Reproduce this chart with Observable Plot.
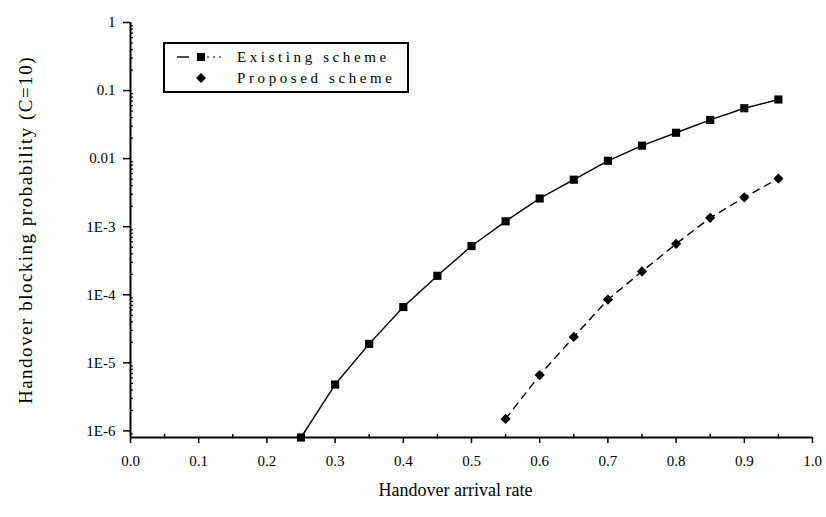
<!DOCTYPE html>
<html>
<head>
<meta charset="utf-8">
<script src="https://cdn.jsdelivr.net/npm/d3@7"></script>
<script src="https://cdn.jsdelivr.net/npm/@observablehq/plot@0.6"></script>
<style>
  html, body { margin: 0; padding: 0; background: white; }
  #wrap { position: relative; width: 826px; height: 517px; font-family: 'Liberation Serif', 'DejaVu Serif', serif; }
  #legend { position: absolute; left: 163px; top: 42px; width: 242px; height: 47px; border: 2px solid black; background: white; }
  .row { position: absolute; left: 0; height: 20px; display: flex; align-items: center; font-size: 15px; letter-spacing: 3.6px; color: black; white-space: nowrap; }
  .row svg { display: block; }
</style>
</head>
<body>
<div id="wrap"></div>
<script>
// ---- data ----
const existingRates = [0.25, 0.30, 0.35, 0.40, 0.45, 0.50, 0.55, 0.60, 0.65, 0.70, 0.75, 0.80, 0.85, 0.90, 0.95];
const existingValues = [8e-7, 4.8e-6, 1.9e-5, 6.6e-5, 1.9e-4, 5.2e-4, 1.2e-3, 2.6e-3, 4.9e-3, 9.3e-3, 0.0155, 0.024, 0.037, 0.055, 0.074];
const proposedRates = [0.55, 0.60, 0.65, 0.70, 0.75, 0.80, 0.85, 0.90, 0.95];
const proposedValues = [1.5e-6, 6.6e-6, 2.4e-5, 8.5e-5, 2.2e-4, 5.6e-4, 1.35e-3, 2.7e-3, 5.1e-3];
const seriesNames = ["Existing scheme", "Proposed scheme"];
const xTicks = [0, 0.1, 0.2, 0.3, 0.4, 0.5, 0.6, 0.7, 0.8, 0.9, 1.0];
const xTickLabels = ["0.0", "0.1", "0.2", "0.3", "0.4", "0.5", "0.6", "0.7", "0.8", "0.9", "1.0"];
const xMinorTicks = [0.05, 0.15, 0.25, 0.35, 0.45, 0.55, 0.65, 0.75, 0.85, 0.95];
const yTicks = [1, 0.1, 0.01, 1e-3, 1e-4, 1e-5, 1e-6];
const yTickLabels = ["1", "0.1", "0.01", "1E-3", "1E-4", "1E-5", "1E-6"];
const xLabel = "Handover arrival rate";
const yLabel = "Handover blocking probability (C=10)";

const existing = existingRates.map((x, i) => ({x, y: existingValues[i]}));
const proposed = proposedRates.map((x, i) => ({x, y: proposedValues[i]}));
const yMinor = [];
for (let e = -7; e < 0; e++) for (let m = 2; m <= 9; m++) { const v = m * Math.pow(10, e); if (v >= 8e-7 && v <= 1) yMinor.push(v); }
const yMin = 8e-7;
const xFmt = d => xTickLabels[xTicks.findIndex(t => Math.abs(t - d) < 1e-9)];
const yFmt = d => yTickLabels[yTicks.findIndex(t => Math.abs(Math.log10(t) - Math.log10(d)) < 1e-6)];

const chart = Plot.plot({
  width: 826,
  height: 517,
  marginLeft: 130,
  marginRight: 14,
  marginTop: 22,
  marginBottom: 80,
  style: {fontFamily: "'Liberation Serif', serif", fontSize: "14px", color: "black", background: "white"},
  x: {domain: [0, 1]},
  y: {type: "log", domain: [yMin, 1]},
  marks: [
    Plot.axisX(xTicks, {tickSize: 6, tickPadding: 12, tickFormat: xFmt, label: null, fontSize: 15, strokeWidth: 1.5}),
    Plot.axisX(xMinorTicks, {tickSize: -3, tickFormat: () => "", label: null, strokeWidth: 1.5}),
    Plot.axisY(yTicks, {tickSize: 7, tickPadding: 8, tickFormat: yFmt, label: null, fontSize: 15, strokeWidth: 1.5}),
    Plot.axisY(yMinor, {tickSize: -3, tickFormat: () => "", label: null, strokeWidth: 1.2}),
    Plot.ruleX([0], {strokeWidth: 2}),
    Plot.ruleY([yMin], {strokeWidth: 2}),
    Plot.line(existing, {x: "x", y: "y", stroke: "black", strokeWidth: 1.4}),
    Plot.line(proposed, {x: "x", y: "y", stroke: "black", strokeWidth: 1.4, strokeDasharray: "7,6"}),
    Plot.dot(existing, {x: "x", y: "y", symbol: "square", r: 4.6, fill: "black", stroke: "none"}),
    Plot.dot(proposed, {x: "x", y: "y", symbol: "diamond2", r: 4.6, fill: "black", stroke: "none"}),
    Plot.text([xLabel], {frameAnchor: "bottom", dy: 58, dx: -16, fontSize: 18}),
    Plot.text([yLabel], {frameAnchor: "left", dx: -105, rotate: -90, textAnchor: "middle", fontSize: 19, style: "letter-spacing:1.5px"})
  ]
});

const wrap = document.getElementById("wrap");
wrap.appendChild(chart);
// widen the rotated axis label's letter spacing like the reference
chart.querySelectorAll("text").forEach(t => { if (t.textContent === yLabel) t.setAttribute("letter-spacing", "1.5"); });

const legend = document.createElement("div");
legend.id = "legend";
legend.innerHTML = `
  <div class="row" style="top:3px;">
    <svg width="72" height="20"><line x1="12" y1="10" x2="24" y2="10" stroke="black" stroke-width="1.4"/><rect x="32" y="6" width="8" height="8" fill="black"/><line x1="42" y1="10" x2="60" y2="10" stroke="black" stroke-width="1.2" stroke-dasharray="2,4"/></svg>
    <span>${seriesNames[0]}</span>
  </div>
  <div class="row" style="top:24px;">
    <svg width="72" height="20"><path d="M36,5 L41,10 L36,15 L31,10 Z" fill="black"/></svg>
    <span>${seriesNames[1]}</span>
  </div>`;
wrap.appendChild(legend);
</script>
</body>
</html>
